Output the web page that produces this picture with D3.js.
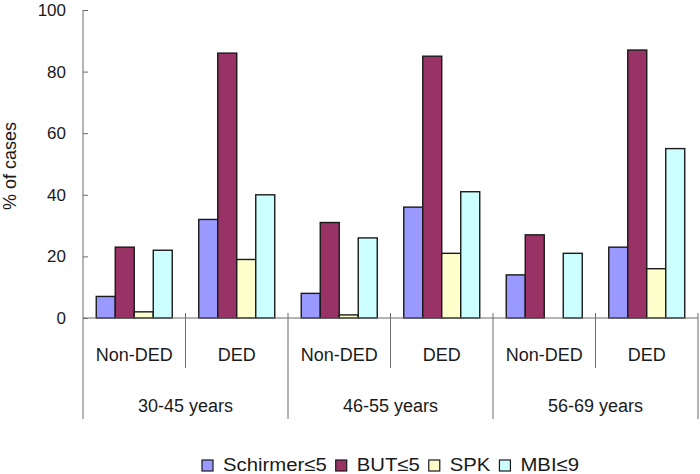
<!DOCTYPE html>
<html>
<head>
<meta charset="utf-8">
<script src="https://cdn.jsdelivr.net/npm/d3@7"></script>
<style>
  html, body { margin: 0; padding: 0; background: #fff; }
  svg { display: block; font-family: "Liberation Sans", Arial, sans-serif; }
</style>
</head>
<body>
<svg id="chart" width="700" height="474"></svg>
<script>
// ---- data ----
const groups = ["30-45 years", "46-55 years", "56-69 years"];
const subgroups = ["Non-DED", "DED"];
const series = ["Schirmer≤5", "BUT≤5", "SPK", "MBI≤9"];
const schirmer = [7, 32, 8, 36, 14, 23];
const but = [23, 86, 31, 85, 27, 87];
const spk = [2, 19, 1, 21, 0, 16];
const mbi = [22, 40, 26, 41, 21, 55];
const yTicks = [0, 20, 40, 60, 80, 100];
const colors = ["#9999FF", "#993366", "#FFFFCC", "#CCFFFF"];

(function () {
const values = [schirmer, but, spk, mbi];
const categories = [];
groups.forEach(g => subgroups.forEach(s => categories.push(g + "|" + s)));

// ---- layout ----
const mLeft = 83, mRight = 698, mTop = 10, mBottom = 318;
const svg = d3.select("#chart");

const x0 = d3.scaleBand().domain(categories).range([mLeft, mRight]).padding(0);
const x1 = d3.scaleBand().domain(series).range([13.25, x0.bandwidth() - 13.25]).padding(0);
const y = d3.scaleLinear().domain([0, 100]).range([mBottom, mTop]);
const color = d3.scaleOrdinal().domain(series).range(colors);

const lineColor = "#6b6b6b";

// y axis
const yAxis = d3.axisRight(y).tickValues(yTicks).tickSize(5).tickFormat("");
const gy = svg.append("g").attr("transform", `translate(${mLeft},0)`).call(yAxis);
gy.select(".domain").remove();
gy.selectAll(".tick line").attr("stroke", lineColor);
svg.append("line").attr("x1", mLeft).attr("x2", mLeft).attr("y1", mTop).attr("y2", 419)
  .attr("stroke", lineColor);
svg.append("g").selectAll("text").data(yTicks).join("text")
  .attr("x", 66).attr("y", d => y(d)).attr("dy", "0.35em")
  .attr("text-anchor", "end").attr("font-size", 17).attr("fill", "#1a1a1a")
  .text(d => d);

// y title
svg.append("text")
  .attr("transform", `translate(16,${(mTop + mBottom) / 2 + 2}) rotate(-90)`)
  .attr("text-anchor", "middle").attr("font-size", 18).attr("fill", "#1a1a1a")
  .text("% of cases");

// bars
const barData = [];
categories.forEach((c, i) => series.forEach((s, j) => barData.push({ c, s, v: values[j][i] })));
svg.append("g").selectAll("rect").data(barData).join("rect")
  .attr("x", d => x0(d.c) + x1(d.s))
  .attr("y", d => y(d.v))
  .attr("width", x1.bandwidth())
  .attr("height", d => y(0) - y(d.v))
  .attr("fill", d => color(d.s))
  .attr("stroke", "#1a1a1a").attr("stroke-width", 1.4);

// x axis line
svg.append("line").attr("x1", mLeft).attr("x2", mRight).attr("y1", mBottom).attr("y2", mBottom)
  .attr("stroke", lineColor);

// separators
categories.forEach((c, i) => {
  const xe = x0(c) + x0.bandwidth();
  const isGroupEnd = (i % 2 === 1);
  svg.append("line").attr("x1", xe).attr("x2", xe)
    .attr("y1", 313).attr("y2", isGroupEnd ? 419 : 368)
    .attr("stroke", lineColor);
});

// category labels
svg.append("g").selectAll("text").data(categories).join("text")
  .attr("x", d => x0(d) + x0.bandwidth() / 2).attr("y", 361)
  .attr("text-anchor", "middle").attr("font-size", 18).attr("fill", "#1a1a1a")
  .text(d => d.split("|")[1]);

// group labels
svg.append("g").selectAll("text").data(groups).join("text")
  .attr("x", (d, i) => (x0(categories[i * 2]) + x0(categories[i * 2 + 1]) + x0.bandwidth()) / 2)
  .attr("y", 412)
  .attr("text-anchor", "middle").attr("font-size", 18).attr("fill", "#1a1a1a")
  .text(d => d);

// legend
const lg = svg.append("g");
const sx = 1.07;
let cx = 0;
series.forEach((s, i) => {
  const item = lg.append("g").attr("transform", `translate(${cx},0)`);
  item.append("rect").attr("x", 0).attr("y", -11).attr("width", 11).attr("height", 11)
    .attr("fill", colors[i]).attr("stroke", "#1a1a1a").attr("stroke-width", 1.2);
  const t = item.append("text").attr("transform", `translate(21,0) scale(${sx},1)`)
    .attr("font-size", 19).attr("fill", "#1a1a1a").text(s);
  const w = t.node().getComputedTextLength() * sx;
  cx += 21 + w + 9;
});
const totalW = cx - 9;
lg.attr("transform", `translate(${(mLeft + mRight) / 2 - totalW / 2},471)`);
})();
</script>
</body>
</html>
